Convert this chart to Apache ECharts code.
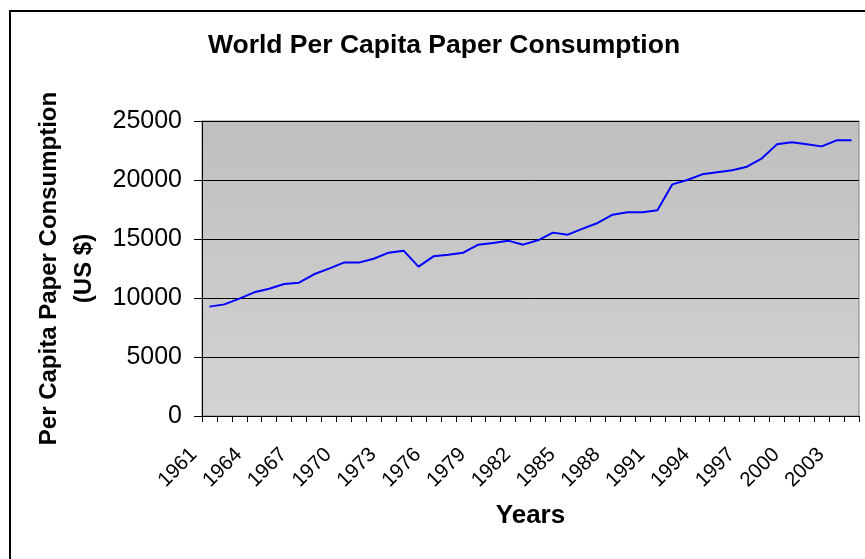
<!DOCTYPE html>
<html>
<head>
<meta charset="utf-8">
<style>
html,body{margin:0;padding:0;background:#fff;}
#c{width:865px;height:559px;}
</style>
<script src="https://cdn.jsdelivr.net/npm/echarts@6/dist/echarts.min.js"></script>
</head>
<body>
<div id="c"></div>
<script>
var years = [];
for (var y = 1961; y <= 2004; y++) years.push(String(y));
var consumption = [
  9270, 9460, 9950, 10480, 10790, 11190, 11300, 12010, 12490, 13000,
  13000, 13330, 13840, 14010, 12660, 13530, 13670, 13840, 14520, 14660,
  14860, 14520, 14890, 15540, 15370, 15880, 16360, 17060, 17260, 17260,
  17430, 19630, 20000, 20480, 20650, 20820, 21130, 21840, 23020, 23190,
  23020, 22850, 23360, 23360
];
var yTicks = { min: 0, max: 25000, interval: 5000 };

var chart = echarts.init(document.getElementById('c'));
var font = '"Liberation Sans", Arial, sans-serif';
chart.setOption({
  animation: false,
  backgroundColor: '#fff',
  title: {
    text: 'World Per Capita Paper Consumption',
    left: 444,
    top: 32,
    textAlign: 'center',
    padding: 0,
    textStyle: { fontFamily: font, fontSize: 26.5, fontWeight: 'bold', color: '#000' }
  },
  graphic: [{
    type: 'rect',
    shape: { x: 10, y: 11, width: 1000, height: 1000 },
    style: { fill: 'none', stroke: '#000', lineWidth: 2 },
    silent: true
  }],
  grid: {
    left: 202, right: 6, top: 121, bottom: 143,
    show: true,
    borderColor: '#808080',
    borderWidth: 1,
    backgroundColor: {
      type: 'linear', x: 0, y: 0, x2: 0, y2: 1,
      colorStops: [{ offset: 0, color: '#bfbfbf' }, { offset: 1, color: '#d3d3d3' }]
    }
  },
  xAxis: {
    type: 'category',
    data: years,
    boundaryGap: true,
    name: 'Years',
    nameLocation: 'middle',
    nameGap: 87,
    nameTextStyle: { fontFamily: font, fontSize: 26, fontWeight: 'bold', color: '#000' },
    axisLine: { show: true, lineStyle: { color: '#000', width: 1 } },
    axisTick: { show: true, interval: 0, length: 6, lineStyle: { color: '#000' } },
    axisLabel: {
      interval: 2, rotate: 45, margin: 20, padding: [0, 22, 0, 0],
      fontFamily: font, fontSize: 20.5, color: '#000'
    },
    splitLine: { show: false }
  },
  yAxis: {
    type: 'value',
    min: yTicks.min, max: yTicks.max, interval: yTicks.interval,
    name: 'Per Capita Paper Consumption\n(US $)',
    nameLocation: 'middle',
    nameGap: 89,
    nameRotate: 90,
    nameTextStyle: { fontFamily: font, fontSize: 24, fontWeight: 'bold', color: '#000', lineHeight: 35 },
    axisLine: { show: true, lineStyle: { color: '#000', width: 1 } },
    axisTick: { show: true, length: 8, lineStyle: { color: '#000' } },
    axisLabel: {
      margin: 20, fontFamily: font, fontSize: 25, color: '#000',
      formatter: function (v) { return String(v); }
    },
    splitLine: { show: true, lineStyle: { color: '#000', width: 1 } }
  },
  series: [{
    type: 'line',
    data: consumption,
    symbol: 'none',
    lineStyle: { color: '#0000ff', width: 2 },
    itemStyle: { color: '#0000ff' }
  }]
});
</script>
</body>
</html>
